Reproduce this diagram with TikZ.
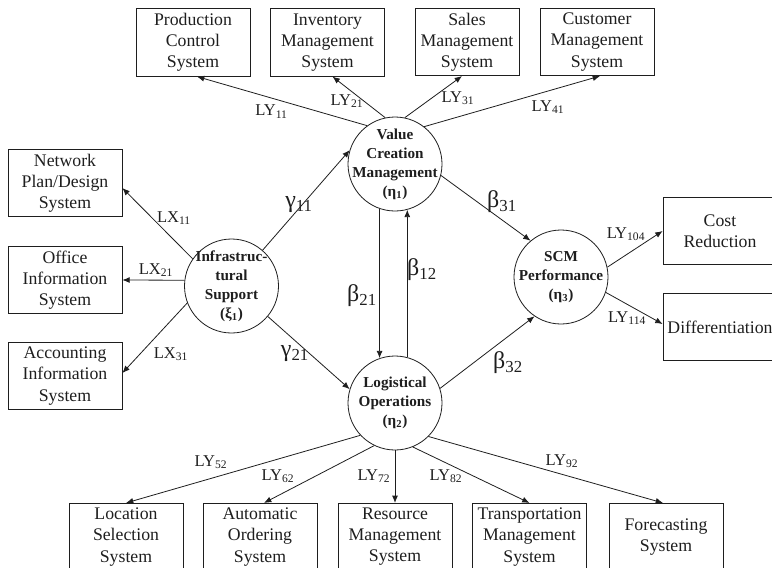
\documentclass[tikz,border=0pt]{standalone}
\usepackage{fontspec}
\setmainfont{Liberation Serif}
\usetikzlibrary{arrows.meta,calc}
\definecolor{ink}{RGB}{30,30,30}
\tikzset{
  >={Latex[length=5.5pt,width=4.5pt]},
  sysbox/.style={draw=ink,line width=0.6pt,minimum width=85.5pt,minimum height=50.5pt,
    align=center,inner sep=2pt,text=ink,font=\fontsize{13.3}{15.8}\selectfont},
  construct/.style={circle,draw=ink,line width=0.6pt,minimum size=70.5pt,inner sep=0pt},
  construct text/.style={align=center,inner sep=0pt,text=ink,
    font=\fontsize{11.4}{14.2}\selectfont\bfseries},
  load/.style={->,draw=ink,line width=0.6pt},
  coef/.style={inner sep=1pt,text=ink,font=\fontsize{12.4}{12.4}\selectfont},
  pathcoef/.style={inner sep=1pt,text=ink,font=\fontsize{18}{18}\selectfont},
}
\begin{document}
\begin{tikzpicture}[x=0.75pt,y=-0.75pt]
  \useasboundingbox (0,0) rectangle (772,568);
  % latent constructs
  \node[construct] (vc) at (395,164) {};
  \node[construct] (is) at (231.5,286) {};
  \node[construct] (lo) at (395,403) {};
  \node[construct] (scm) at (561,277) {};
  \node[construct text] (vctext) at (vc) {Value\\Creation\\Management\\(η\textsubscript{1})};
  \node[construct text] (istext) at (is) {Infrastruc-\\tural\\Support\\(ξ\textsubscript{1})};
  \node[construct text] (lotext) at (lo) {Logistical\\Operations\\(η\textsubscript{2})};
  \node[construct text] (scmtext) at (scm) {SCM\\Performance\\(η\textsubscript{3})};
  % indicators, top row
  \node[sysbox] (pcs) at (193,42.5) {Production\\Control\\System};
  \node[sysbox] (ims) at (327.5,42.5) {Inventory\\Management\\System};
  \node[sysbox,minimum width=78pt] (sms) at (467,42) {Sales\\Management\\System};
  \node[sysbox] (cms) at (597,42) {Customer\\Management\\System};
  % indicators, left column
  \node[sysbox] (nps) at (65,183) {Network\\Plan/Design\\System};
  \node[sysbox] (ois) at (65,280) {Office\\Information\\System};
  \node[sysbox] (ais) at (65,376) {Accounting\\Information\\System};
  % indicators, right column
  \node[sysbox] (cr) at (720,231) {Cost\\Reduction};
  \node[sysbox] (dif) at (720,327) {Differentiation};
  % indicators, bottom row
  \node[sysbox] (lss) at (126,537) {Location\\Selection\\System};
  \node[sysbox] (aos) at (260,537) {Automatic\\Ordering\\System};
  \node[sysbox] (rms) at (395,537) {Resource\\Management\\System};
  \node[sysbox] (tms) at (529.5,537) {Transportation\\Management\\System};
  \node[sysbox] (fs) at (666,537) {Forecasting\\System};
  % loadings
  \draw[load] (vc.126) -- ($(pcs.south)+(4,0)$);
  \draw[load] (vc.102) -- ($(ims.south)+(5,0)$);
  \draw[load] (vc.78) -- ($(sms.south)+(-5,0)$);
  \draw[load] (vc.52) -- ($(cms.south)+(3,0)$);
  \draw[load] (is.145) -- ($(nps.east)+(0,5)$);
  \draw[load] (is.173) -- (ois.east);
  \draw[load] (is.201) -- ($(ais.east)+(0,-3)$);
  \draw[load] (scm.12) -- (cr.west);
  \draw[load] (scm.341) -- ($(dif.west)+(0,-3)$);
  \draw[load] (lo.223) -- (lss.north);
  \draw[load] (lo.244) -- ($(aos.north)+(4,0)$);
  \draw[load] (lo.south) -- (rms.north);
  \draw[load] (lo.292) -- (tms.north);
  \draw[load] (lo.315) -- ($(fs.north)+(-3,0)$);
  % structural paths
  \draw[load] (is.49) -- (vc.163);
  \draw[load] (is.320) -- (lo.163);
  \draw[load] (vc.251) -- (lo.109);
  \draw[load] (lo.75) -- (vc.285);
  \draw[load] (vc.346) -- (scm.130);
  \draw[load] (lo.18) -- (scm.236);
  % coefficient labels
  \node[coef] (ly11) at (271.5,111.5) {LY\textsubscript{11}};
  \node[coef] (ly21) at (347,101) {LY\textsubscript{21}};
  \node[coef] (ly31) at (458,98) {LY\textsubscript{31}};
  \node[coef] (ly41) at (548,107) {LY\textsubscript{41}};
  \node[coef] (lx11) at (174,218) {LX\textsubscript{11}};
  \node[coef] (lx21) at (156,270) {LX\textsubscript{21}};
  \node[coef] (lx31) at (171,354) {LX\textsubscript{31}};
  \node[coef] (ly104) at (626,234) {LY\textsubscript{104}};
  \node[coef] (ly114) at (627,318) {LY\textsubscript{114}};
  \node[coef] (ly52) at (211,462) {LY\textsubscript{52}};
  \node[coef] (ly62) at (278,476) {LY\textsubscript{62}};
  \node[coef] (ly72) at (374,476) {LY\textsubscript{72}};
  \node[coef] (ly82) at (446,476) {LY\textsubscript{82}};
  \node[coef] (ly92) at (562,461) {LY\textsubscript{92}};
  \node[pathcoef] (g11) at (299,205) {γ\textsubscript{11}};
  \node[pathcoef] (g21) at (295,354) {γ\textsubscript{21}};
  \node[pathcoef] (b21) at (362,296) {β\textsubscript{21}};
  \node[pathcoef] (b12) at (422,270) {β\textsubscript{12}};
  \node[pathcoef] (b31) at (502,202) {β\textsubscript{31}};
  \node[pathcoef] (b32) at (508,363) {β\textsubscript{32}};
\end{tikzpicture}
\end{document}
